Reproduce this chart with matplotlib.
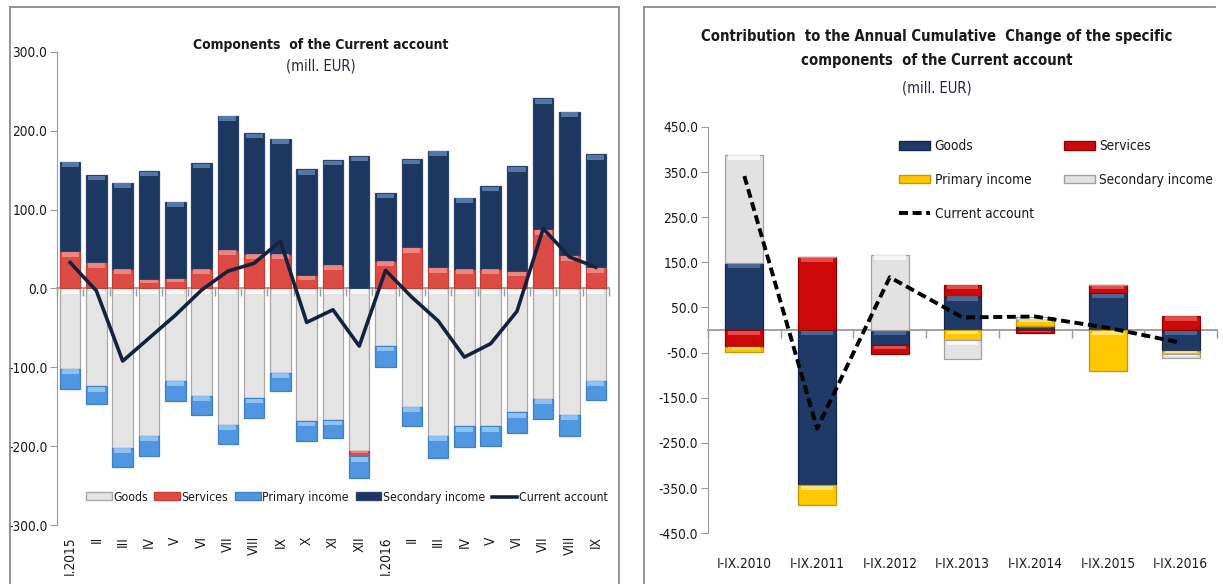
import matplotlib
matplotlib.use('Agg')
import matplotlib.pyplot as plt
import numpy as np
from matplotlib import font_manager as fm
from matplotlib.patches import Patch
from matplotlib.lines import Line2D

# pick the narrowest available sans family
_fonts = fm.fontManager.ttflist
if any(f.name == 'Liberation Sans Narrow' for f in _fonts):
    FAM, FS = 'Liberation Sans Narrow', 10.5
elif any(f.name == 'DejaVu Sans' and f.stretch == 'condensed' for f in _fonts):
    FAM, FS = 'DejaVu Sans', 9.8
    plt.rcParams['font.stretch'] = 'condensed'
else:
    FAM, FS = 'Liberation Sans', 9.8
plt.rcParams['font.family'] = [FAM, 'DejaVu Sans']
plt.rcParams['axes.unicode_minus'] = False

# ---- left chart: monthly components (mill. EUR)
months = ['I.2015', 'II', 'III', 'IV', 'V', 'VI', 'VII', 'VIII', 'IX', 'X', 'XI', 'XII',
          'I.2016', 'II', 'III', 'IV', 'V', 'VI', 'VII', 'VIII', 'IX']
goods_m = [-102, -124, -202, -187, -117, -136, -173, -139, -107, -168, -167, -206,
           -73, -150, -187, -175, -175, -157, -140, -160, -117]
services_m = [47, 33, 25, 12, 13, 25, 49, 44, 44, 17, 30, -7,
              35, 52, 27, 25, 25, 22, 75, 42, 27]
primary_m = [-26, -23, -24, -25, -26, -25, -24, -25, -23, -25, -22, -27,
             -27, -25, -28, -26, -25, -26, -25, -27, -25]
secondary_m = [114, 111, 109, 137, 97, 134, 170, 153, 146, 134, 133, 168,
               86, 112, 148, 90, 105, 133, 166, 182, 143]
current_m = [33, -3, -92, -63, -34, -2, 22, 32, 60, -43, -27, -73,
             23, -11, -41, -87, -70, -29, 76, 40, 27]

# ---- right chart: contribution to annual cumulative change
periods = ['I-IX.2010', 'I-IX.2011', 'I-IX.2012', 'I-IX.2013', 'I-IX.2014', 'I-IX.2015', 'I-IX.2016']
goods_c = [148, -343, -33, 76, 9, 82, -46]
services_c = [-37, 161, -21, 24, -7, 17, 32]
primary_c = [-11, -44, 0, -22, 14, -91, -7]
secondary_c = [240, 0, 167, -43, 5, 0, -8]
current_c = [341, -218, 117, 28, 30, 5, -28]

left_ticks = np.arange(-300, 301, 100)
right_ticks = np.arange(-450, 451, 100)

TXT = '#1a1a1a'
AXC = '#9a9a9a'


def stack_bars(ax, series, colors, edges, lights, width, band):
    x = np.arange(len(series[0]))
    pos = np.zeros(len(x))
    neg = np.zeros(len(x))
    for vals, c, e, l in zip(series, colors, edges, lights):
        v = np.array(vals, dtype=float)
        bottom = np.where(v >= 0, pos, neg)
        ax.bar(x, v, width, bottom=bottom, color=c, edgecolor=e, linewidth=0.9, zorder=2)
        # bevel highlight along the upper edge of every segment
        top = np.where(v >= 0, bottom + v, bottom)
        h = np.minimum(band, np.abs(v) * 0.35)
        ax.bar(x, -h, width * 0.84, bottom=top - 0.12 * band, color=l,
               linewidth=0, zorder=3, alpha=0.75)
        pos += np.where(v > 0, v, 0)
        neg += np.where(v < 0, v, 0)
    return x


def style_axis(ax, n, ticks, labels, rot, pad):
    ax.set_xlim(-0.5, n - 0.5)
    ax.set_ylim(ticks[0], ticks[-1])
    for s in ['top', 'right', 'bottom']:
        ax.spines[s].set_visible(False)
    ax.spines['left'].set_color(AXC)
    ax.set_yticks(ticks)
    ax.set_yticklabels([f'{t:.1f}' for t in ticks])
    ax.tick_params(axis='y', direction='out', length=5, color=AXC, labelsize=FS,
                   labelcolor=TXT, pad=2)
    ax.set_xticks(np.arange(n))
    ax.set_xticklabels(labels, rotation=rot)
    ax.tick_params(axis='x', length=0, labelsize=FS, labelcolor=TXT, pad=pad)
    # zero line with category boundary ticks
    sec = ax.secondary_xaxis(0.5)
    sec.set_xticks(np.arange(-0.5, n, 1.0))
    sec.set_xticklabels([])
    sec.tick_params(direction='in', length=6, color=AXC, width=1)
    for s in sec.spines.values():
        s.set_color(AXC)
        s.set_linewidth(1.3)
    ax.patch.set_alpha(0)


def fit_text(fig, x, y, s, width_px, **kw):
    t = fig.text(x, y, s, ha='center', va='center', **kw)
    r = fig.canvas.get_renderer()
    w = t.get_window_extent(r).width
    t.set_fontsize(t.get_fontsize() * width_px / w)
    return t


fig = plt.figure(figsize=(12.23, 5.84), dpi=100)
W, H = 1223.0, 584.0

# ---------------- left chart
ax1 = fig.add_axes([0.0466, 0.101, 0.4513, 0.810])
lc = ['#e4e4e4', '#dc4b44', '#5096e0', '#1d3760']
le = ['#a8a8a8', '#c83c36', '#3f7fc8', '#2a4470']
ll = ['#ffffff', '#f59a94', '#a6d0fa', '#6a8cbf']
x1 = stack_bars(ax1, [goods_m, services_m, primary_m, secondary_m], lc, le, ll, 0.78, 6)
ax1.plot(x1, current_m, color='#14233d', lw=2.6, zorder=4)
style_axis(ax1, len(months), left_ticks, months, 90, 8)
for t in ax1.get_xticklabels():
    t.set_va('top')

h1 = [Patch(facecolor=c, edgecolor=e) for c, e in zip(lc, le)]
h1.append(Line2D([], [], color='#14233d', lw=2.6))
ax1.legend(h1, ['Goods', 'Services', 'Primary income', 'Secondary income', 'Current account'],
           ncol=5, loc='center', bbox_to_anchor=(0.525, 0.059), frameon=False,
           fontsize=FS - 1.0, handlelength=2.1, handleheight=0.6, handletextpad=0.12,
           columnspacing=0.55, labelcolor=TXT)

fit_text(fig, 321 / W, 1 - 45 / H, 'Components  of the Current account', 229 * 1.12,
         fontsize=11, fontweight='bold', color=TXT)
fit_text(fig, 321 / W, 1 - 66 / H, '(mill. EUR)', 62 * 1.12, fontsize=10, color='#2a2440')

# ---------------- right chart
ax2 = fig.add_axes([0.5789, 0.0868, 0.4162, 0.696])
rc = ['#1f3a66', '#cc0a0a', '#ffc800', '#e2e2e2']
re = ['#16294a', '#8a0606', '#c89400', '#a0a0a0']
rl = ['#5a78a6', '#f06060', '#fff0a0', '#ffffff']
x2 = stack_bars(ax2, [goods_c, services_c, primary_c, secondary_c], rc, re, rl, 0.52, 10)
ax2.plot(x2, current_c, color='black', lw=2.8, ls=(0, (2.3, 1.2)), zorder=4)
style_axis(ax2, len(periods), right_ticks, periods, 0, 17)

dash = Line2D([], [], color='black', lw=2.8, ls=(0, (2.3, 1.2)))
legA = ax2.legend([Patch(facecolor=rc[0], edgecolor=re[0]), Patch(facecolor=rc[2], edgecolor=re[2]), dash],
                  ['Goods', 'Primary income', 'Current account'],
                  loc='upper left', bbox_to_anchor=((893 - 708) / 509 - 0.012, 1.0), frameon=False,
                  fontsize=FS, handlelength=2.3, handleheight=0.6, handletextpad=0.3,
                  labelspacing=1.45, labelcolor=TXT)
ax2.add_artist(legA)
ax2.legend([Patch(facecolor=rc[1], edgecolor=re[1]), Patch(facecolor=rc[3], edgecolor=re[3])],
           ['Services', 'Secondary income'],
           loc='upper left', bbox_to_anchor=((1062 - 708) / 509 - 0.02, 1.0), frameon=False,
           fontsize=FS, handlelength=2.3, handleheight=0.6, handletextpad=0.3,
           labelspacing=1.45, labelcolor=TXT)

fit_text(fig, 937 / W, 1 - 37 / H, 'Contribution  to the Annual Cumulative  Change of the specific', 427 * 1.1,
         fontsize=11, fontweight='bold', color=TXT)
fit_text(fig, 937 / W, 1 - 61 / H, 'components  of the Current account', 246 * 1.1,
         fontsize=11, fontweight='bold', color=TXT)
fit_text(fig, 937 / W, 1 - 88 / H, '(mill. EUR)', 62 * 1.12, fontsize=10, color='#2a2440')

# ---------------- panel borders
bc = '#8c8c8c'
for xs, ys in [([10, 10], [7, 600]), ([10, 619], [7, 7]), ([619, 619], [7, 600]),
               ([644, 644], [7, 600]), ([644, 1215], [7, 7])]:
    fig.add_artist(Line2D([v / W for v in xs], [1 - v / H for v in ys],
                          transform=fig.transFigure, color=bc, lw=1.3))

fig.savefig('out.png', dpi=100)
